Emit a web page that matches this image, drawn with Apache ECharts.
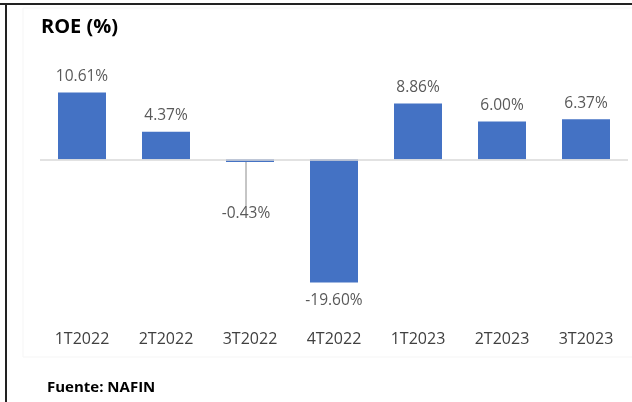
<!DOCTYPE html>
<html><head><meta charset="utf-8">
<script src="https://cdn.jsdelivr.net/npm/echarts@6/dist/echarts.min.js"></script>
<style>html,body{margin:0;padding:0;background:#fff}#c{width:632px;height:402px}</style>
</head><body><div id="c"></div>
<script>
const categories = ['1T2022','2T2022','3T2022','4T2022','1T2023','2T2023','3T2023'];
const roeValues = [10.61, 4.37, -0.43, -19.60, 8.86, 6.00, 6.37];

const chart = echarts.init(document.getElementById('c'), null, {renderer:'canvas'});
const font = '"Open Sans", sans-serif';
const data = roeValues.map(function(v, i){
  const item = {value: v};
  if (v < 0) {
    item.label = {position: 'bottom', distance: 10};
  }
  if (i === 2) {
    item.label = {position: 'bottom', distance: 2};
    item.labelLine = {show: true, lineStyle: {color: '#8c8c8c', width: 1}};
  }
  return item;
});
chart.setOption({
  animation: false,
  backgroundColor: '#fff',
  title: {text: 'ROE (%)', left: 41, top: 17, padding: 0, textStyle: {fontFamily: font, fontWeight: 'bold', fontSize: 20, color: '#000'}},
  grid: {left: 40, right: 4, top: 65, bottom: 117, containLabel: false},
  xAxis: {type: 'category', data: categories,
    axisLine: {show: false}, axisTick: {show: false},
    axisLabel: {color: '#404040', fontSize: 16, fontFamily: font, margin: 46}},
  yAxis: {type: 'value', min: -20, max: 15, show: false, splitLine: {show: false}},
  series: [{
    type: 'bar', data: data, barWidth: 48,
    itemStyle: {color: '#4472C4'},
    label: {show: true, position: 'top', distance: 8, color: '#595959', fontSize: 15.5, fontFamily: font,
      formatter: function(p){ return p.value.toFixed(2) + '%'; }},
    labelLine: {show: false, lineStyle: {color: '#8c8c8c', width: 1}},
    labelLayout: function(p){
      if (p.dataIndex === 2) { return {dy: 42, dx: -4}; }
      return {};
    },
    markLine: {silent: true, symbol: 'none', label: {show: false},
      lineStyle: {color: '#d9d9d9', width: 1.5, type: 'solid'}, data: [{yAxis: 0}]}
  }],
  graphic: [
    {type: 'rect', shape: {x: 23, y: 8, width: 640, height: 349}, style: {fill: 'none', stroke: '#f5f5f5', lineWidth: 1}, silent: true, z: -1},
    {type: 'text', left: 47, top: 380, style: {text: 'Fuente: NAFIN', font: 'bold 15px "Open Sans", sans-serif', fill: '#000'}},
    {type: 'line', shape: {x1: 0, y1: 4, x2: 632, y2: 4}, style: {stroke: '#222', lineWidth: 2}},
    {type: 'line', shape: {x1: 6, y1: 4, x2: 6, y2: 402}, style: {stroke: '#222', lineWidth: 2}}
  ]
});
</script></body></html>
